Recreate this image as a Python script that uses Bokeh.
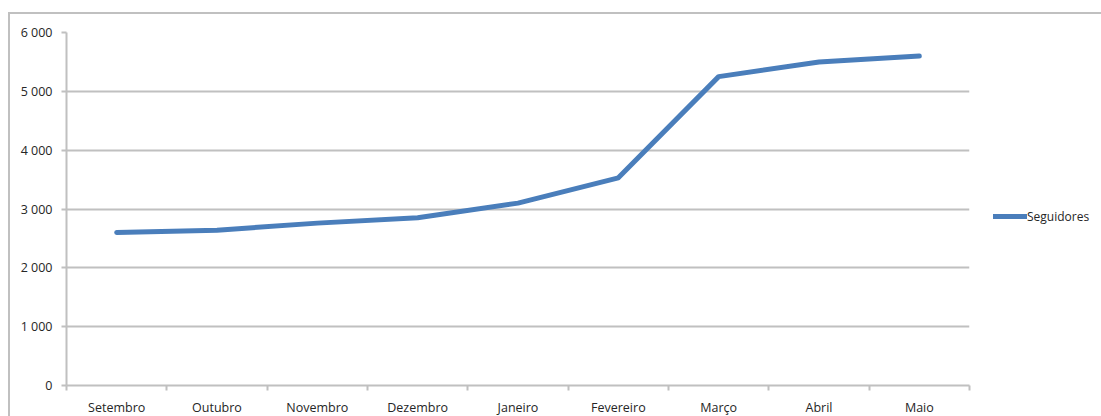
from bokeh.plotting import figure
from bokeh.models import ColumnDataSource, FixedTicker, Legend, LegendItem, Range1d
from bokeh.embed import file_html
from bokeh.resources import INLINE

months = ["Setembro", "Outubro", "Novembro", "Dezembro", "Janeiro",
          "Fevereiro", "Março", "Abril", "Maio"]
seguidores = [2600, 2640, 2760, 2850, 3100, 3530, 5250, 5500, 5600]
y_ticks = [0, 1000, 2000, 3000, 4000, 5000, 6000]
y_tick_labels = ["0", "1 000", "2 000", "3 000", "4 000", "5 000", "6 000"]
series_name = "Seguidores"

FONT = "Open Sans"
GRID = "#c0c0c0"
BLUE = "#4a7ebb"
TXT = "#262626"

x_idx = list(range(len(months)))
src = ColumnDataSource(dict(x=x_idx, y=seguidores, month=months))

p = figure(frame_width=903, frame_height=353, output_backend="svg", toolbar_location=None,
           x_range=Range1d(-0.5, len(months) - 0.5), y_range=Range1d(0, 6000),
           min_border_left=56, min_border_top=18, min_border_right=132, min_border_bottom=31,
           margin=(12, 0, 0, 8))
p.styles = {"border-top": f"2px solid {GRID}", "border-left": f"2px solid {GRID}"}
p.outline_line_color = None
p.background_fill_color = "white"
p.border_fill_color = "white"

r = p.line("x", "y", source=src, line_color=BLUE, line_width=5,
           line_join="round", line_cap="round")

# y axis
p.yaxis.ticker = FixedTicker(ticks=y_ticks)
p.yaxis.major_label_overrides = {t: l for t, l in zip(y_ticks, y_tick_labels)}
p.yaxis.minor_tick_line_color = None
p.yaxis.major_tick_out = 5
p.yaxis.major_tick_in = 0
p.yaxis.major_label_standoff = 9
p.ygrid.ticker = FixedTicker(ticks=y_ticks)
p.ygrid.grid_line_color = GRID
p.ygrid.grid_line_width = 2

# x axis: labels at category centres, tick marks between categories
bounds = [i - 0.5 for i in range(len(months) + 1)]
p.xaxis.ticker = FixedTicker(ticks=x_idx, minor_ticks=bounds)
p.xaxis.major_label_overrides = {i: m for i, m in enumerate(months)}
p.xaxis.minor_tick_out = 5
p.xaxis.minor_tick_in = 0
p.xaxis.minor_tick_line_color = GRID
p.xaxis.minor_tick_line_width = 2
p.xaxis.major_label_standoff = 7
p.xgrid.grid_line_color = None

for ax in (p.xaxis, p.yaxis):
    ax.axis_line_color = GRID
    ax.axis_line_width = 2
    ax.major_tick_line_width = 2
    ax.major_label_text_font = FONT
    ax.major_label_text_font_size = "12.5px"
    ax.major_label_text_color = TXT
p.yaxis.major_tick_line_color = GRID
p.xaxis.major_tick_line_color = None

legend = Legend(items=[LegendItem(label=series_name, renderers=[r])],
                location=(24, 159), orientation="vertical",
                glyph_width=34, glyph_height=20, label_height=20,
                label_standoff=0, padding=0, margin=0, spacing=0,
                border_line_color=None, background_fill_alpha=0,
                label_text_font=FONT, label_text_font_size="12px",
                label_text_color=TXT)
p.add_layout(legend, "right")

open("out.html", "w").write(file_html(p, INLINE))
